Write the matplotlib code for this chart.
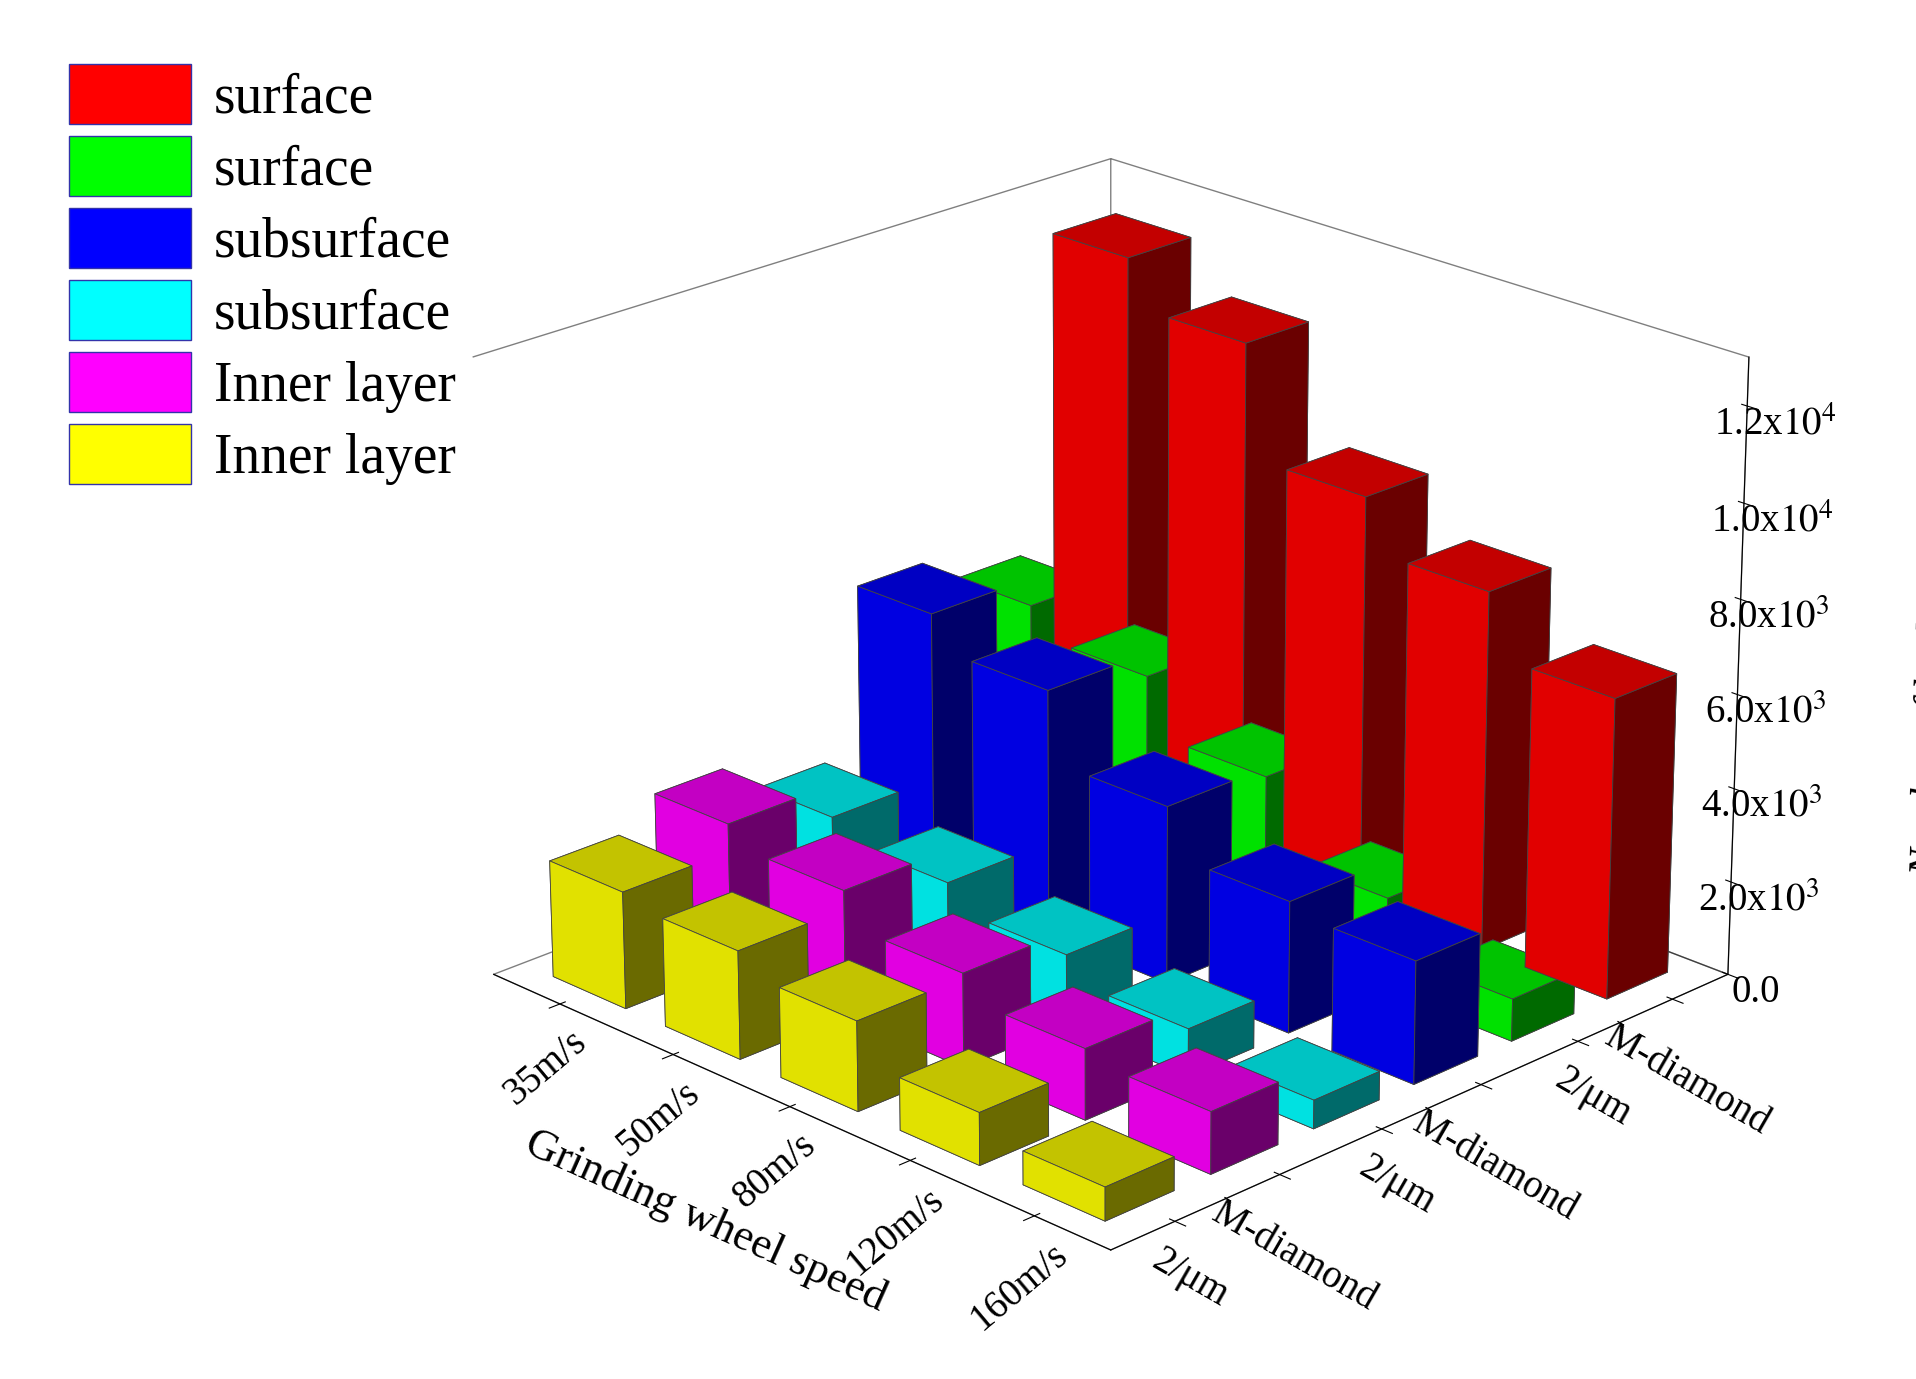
import numpy as np
import matplotlib.pyplot as plt
from matplotlib.patches import Patch
from matplotlib.ticker import FuncFormatter

plt.rcParams['font.family'] = ['Liberation Serif', 'DejaVu Serif']
plt.rcParams['mathtext.fontset'] = 'stix'

speeds = ['35m/s', '50m/s', '80m/s', '120m/s', '160m/s']
rows = ['2/μm', 'M-diamond', '2/μm', 'M-diamond', '2/μm', 'M-diamond']
# front row first
series_names = ['Inner layer', 'Inner layer', 'subsurface', 'subsurface', 'surface', 'surface']
colors = ['#ffff00', '#ff00ff', '#00ffff', '#0000ff', '#00ff00', '#ff0000']
yellow = [2500, 2300, 1900, 1100, 700]
magenta = [3100, 2700, 2000, 1500, 1300]
cyan = [2400, 2000, 1500, 1000, 600]
blue = [6000, 5300, 3800, 2800, 2600]
green = [5400, 4800, 3600, 2000, 900]
red = [12200, 11200, 8800, 7700, 6400]
values = [yellow, magenta, cyan, blue, green, red]

fig = plt.figure(figsize=(19.16, 13.79), dpi=100)
ax = fig.add_axes([0.16, 0.0, 0.82, 1.0], projection='3d')
ax.view_init(elev=22, azim=-45)

w = 0.65
for j, vals in enumerate(values):
    for i, v in enumerate(vals):
        ax.bar3d(i - w / 2, j - w / 2, 0, w, w, v, color=colors[j],
                 edgecolor='#444444', linewidth=0.6, shade=True,
                 lightsource=None)

ax.set_xticks(range(len(speeds)))
ax.set_xticklabels(speeds, fontsize=28, rotation=40)
ax.set_yticks(range(len(rows)))
ax.set_yticklabels(rows, fontsize=28, rotation=-30)
ax.set_zlim(0, 13000)
ax.set_zticks(np.arange(0, 12001, 2000))


def fmt(v, pos):
    if v == 0:
        return '0.0'
    e = int(np.floor(np.log10(v)))
    return '%.1fx$10^{%d}$' % (v / 10 ** e, e)


ax.zaxis.set_major_formatter(FuncFormatter(fmt))
ax.tick_params(axis='z', labelsize=28)
ax.set_xlim(-0.6, 4.6)
ax.set_ylim(-0.6, 5.6)
ax.set_xlabel('Grinding wheel speed', fontsize=32, labelpad=45)
ax.set_zlabel('Number of broken bonds', fontsize=30, style='italic', labelpad=60)
ax.grid(False)
for a in (ax.xaxis, ax.yaxis, ax.zaxis):
    a.pane.fill = False
    a.pane.set_edgecolor('black')
try:
    ax.zaxis.set_ticks_position('upper')
    ax.zaxis.set_label_position('upper')
except Exception:
    pass

handles = [Patch(facecolor=c, edgecolor='#3333aa') for c in colors[::-1]]
fig.legend(handles, series_names[::-1], loc='upper left', bbox_to_anchor=(0.01, 0.99),
           fontsize=40, frameon=False, handlelength=2.2, handleheight=1.3,
           labelspacing=0.2, handletextpad=0.4)

fig.savefig('out.png', dpi=100)
